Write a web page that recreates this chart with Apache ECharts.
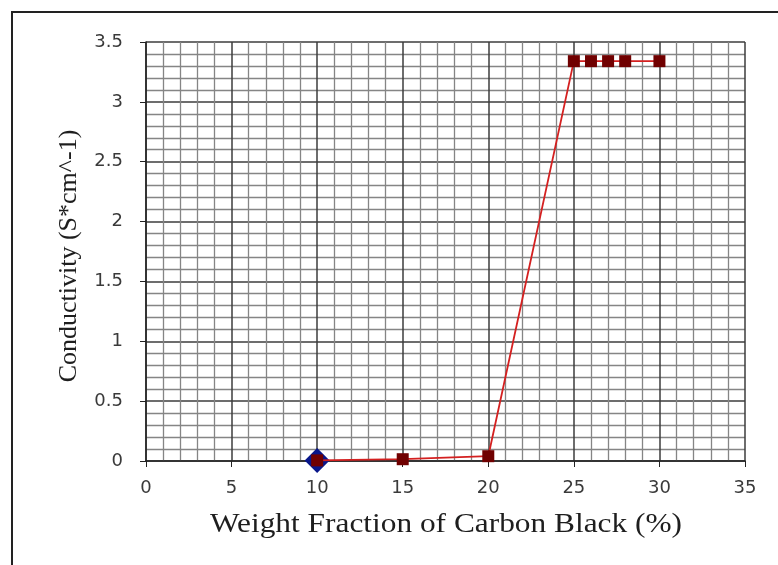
<!DOCTYPE html>
<html>
<head>
<meta charset="utf-8">
<script src="https://cdn.jsdelivr.net/npm/echarts@6/dist/echarts.min.js"></script>
<style>html,body{margin:0;padding:0;background:#fff}#c{width:778px;height:565px}</style>
</head>
<body>
<div id="c"></div>
<script>
const weightFraction = [10, 15, 20, 25, 26, 27, 28, 30];
const conductivity = [0.005, 0.015, 0.04, 3.34, 3.34, 3.34, 3.34, 3.34];
const highlightX = [10];
const highlightY = [0.005];
const xTitle = 'Weight Fraction of Carbon Black (%)';
const yTitle = 'Conductivity (S*cm^-1)';

const chart = echarts.init(document.getElementById('c'), null, {renderer: 'canvas'});
const tickFont = {fontFamily: '"DejaVu Sans", Verdana, sans-serif', fontSize: 18, color: '#3a3a3a'};
const serif = '"Liberation Serif", "Times New Roman", serif';
chart.setOption({
  animation: false,
  backgroundColor: '#fff',
  graphic: [{
    type: 'rect', shape: {x: 12, y: 12, width: 900, height: 700},
    style: {fill: 'none', stroke: '#222', lineWidth: 2}, silent: true, z: -1
  }, {
    type: 'text', x: 446, y: 525, scaleX: 1.12,
    style: {text: xTitle, x: 0, y: 0, textAlign: 'center', textVerticalAlign: 'middle',
      font: '28px ' + serif, fill: '#1e1e1e'}
  }, {
    type: 'text', x: 69, y: 256, rotation: Math.PI / 2,
    style: {text: yTitle, x: 0, y: 0, textAlign: 'center', textVerticalAlign: 'middle',
      font: '26px ' + serif, fill: '#1e1e1e'}
  }],
  grid: {left: 146, right: 33, top: 42, bottom: 104},
  xAxis: {
    type: 'value', min: 0, max: 35, interval: 5,
    axisLine: {show: true, onZero: false, lineStyle: {color: '#222', width: 1.5}},
    axisTick: {show: true, length: 6, lineStyle: {color: '#222'}},
    axisLabel: Object.assign({margin: 18}, tickFont),
    splitLine: {show: true, lineStyle: {color: '#3c3c3c', width: 1.5}},
    minorTick: {show: false, splitNumber: 5},
    minorSplitLine: {show: true, lineStyle: {color: '#858585', width: 1.3}}
  },
  yAxis: {
    type: 'value', min: 0, max: 3.5, interval: 0.5,
    axisLine: {show: true, lineStyle: {color: '#222', width: 1.5}},
    axisTick: {show: true, length: 6, lineStyle: {color: '#222'}},
    axisLabel: Object.assign({margin: 23}, tickFont),
    splitLine: {show: true, lineStyle: {color: '#3c3c3c', width: 1.5}},
    minorTick: {show: false, splitNumber: 5},
    minorSplitLine: {show: true, lineStyle: {color: '#858585', width: 1.3}}
  },
  series: [{
    type: 'scatter',
    data: highlightX.map((x, i) => [x, highlightY[i]]),
    symbol: 'diamond', symbolSize: 25, clip: false,
    itemStyle: {color: '#08168a', opacity: 1}, z: 3
  }, {
    type: 'line', clip: false,
    data: weightFraction.map((x, i) => [x, conductivity[i]]),
    symbol: 'rect', symbolSize: 12,
    itemStyle: {color: '#700000', opacity: 1},
    lineStyle: {color: '#d42020', width: 1.8},
    z: 4
  }]
});
</script>
</body>
</html>
